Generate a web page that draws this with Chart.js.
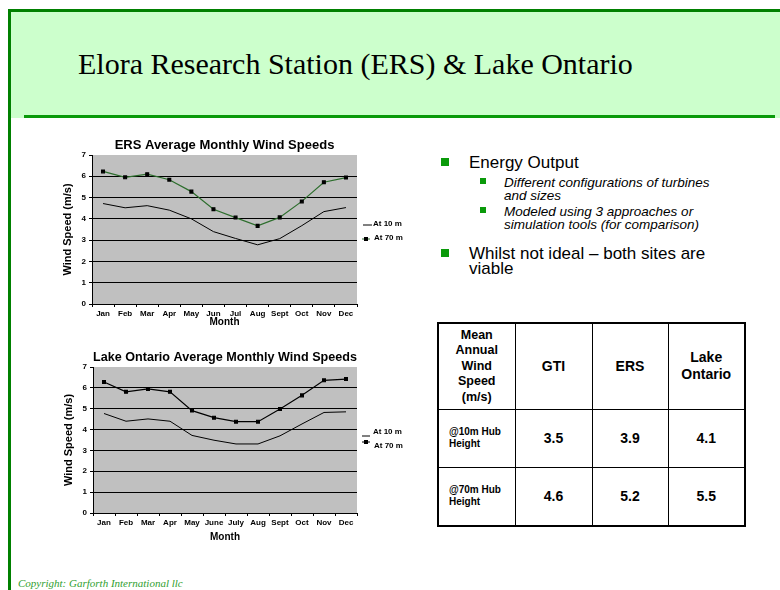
<!DOCTYPE html>
<html>
<head>
<meta charset="utf-8">
<script src="https://cdn.jsdelivr.net/npm/chart.js@4.4.0/dist/chart.umd.min.js"></script>
<style>
  body { margin: 0; width: 780px; height: 590px; position: relative; background: #fff; overflow: hidden;
         font-family: 'Liberation Sans', Arial, sans-serif; }
  .abs { position: absolute; }
  .bul { position: absolute; width: 8px; height: 8px; background: #0a9a0a; }
  .sub { position: absolute; width: 6px; height: 6px; background: #0a9a0a; }
  table { position: absolute; left: 437px; top: 322px; border-collapse: collapse; table-layout: fixed;
          border: 2px solid #000; }
  td { border: 1.5px solid #000; text-align: center; font-weight: bold; padding: 0; }
</style>
</head>
<body>
<div class="abs" style="left:8px;top:9px;width:772px;height:3px;background:#008000"></div>
<div class="abs" style="left:11px;top:12px;width:769px;height:106px;background:#ccffcc"></div>
<div class="abs" style="left:8px;top:9px;width:3px;height:581px;background:#008000"></div>
<div class="abs" style="left:24px;top:115px;width:751px;height:3px;background:#0a9a0a"></div>
<div class="abs" style="left:78px;top:49px;font:30px/30px 'Liberation Serif','Times New Roman',serif;color:#000;white-space:nowrap">Elora Research Station (ERS) &amp; Lake Ontario</div>

<canvas id="ers" class="abs" style="left:50px;top:135px" width="370" height="197"></canvas>
<canvas id="lake" class="abs" style="left:51px;top:347px" width="369" height="200"></canvas>

<div class="bul" style="left:441px;top:158px"></div>
<div class="abs" style="left:469px;top:154px;font-size:17px;line-height:17px;white-space:nowrap">Energy Output</div>
<div class="sub" style="left:480px;top:178px"></div>
<div class="abs" style="left:504px;top:176px;font-size:13.5px;line-height:13px;font-style:italic;width:240px">Different configurations of turbines<br>and sizes</div>
<div class="sub" style="left:480px;top:207px"></div>
<div class="abs" style="left:504px;top:204.5px;font-size:13.5px;line-height:13px;font-style:italic;width:240px">Modeled using 3 approaches or<br>simulation tools (for comparison)</div>
<div class="bul" style="left:441px;top:249px"></div>
<div class="abs" style="left:469px;top:246px;font-size:17px;line-height:15px;width:260px">Whilst not ideal &ndash; both sites are viable</div>

<table>
  <colgroup><col style="width:77px"><col style="width:77px"><col style="width:76px"><col style="width:77px"></colgroup>
  <tr style="height:86px">
    <td style="font-size:12.5px;line-height:15.5px">Mean<br>Annual<br>Wind<br>Speed<br>(m/s)</td>
    <td id="h1" style="font-size:14px"></td>
    <td id="h2" style="font-size:14px"></td>
    <td id="h3" style="font-size:14px;line-height:17px"></td>
  </tr>
  <tr style="height:58px">
    <td id="r1" style="font-size:10px;line-height:12.5px;text-align:left;padding-left:10px"></td>
    <td id="v10_0" style="font-size:14px"></td><td id="v10_1" style="font-size:14px"></td><td id="v10_2" style="font-size:14px"></td>
  </tr>
  <tr style="height:59px">
    <td id="r2" style="font-size:10px;line-height:12.5px;text-align:left;padding-left:10px"></td>
    <td id="v70_0" style="font-size:14px"></td><td id="v70_1" style="font-size:14px"></td><td id="v70_2" style="font-size:14px"></td>
  </tr>
</table>

<div class="abs" style="left:18px;top:577px;font:italic 11px 'Liberation Serif','Times New Roman',serif;color:#2fa02f;white-space:nowrap">Copyright: Garforth International llc</div>

<script>
// chart data
const ersMonths = ['Jan', 'Feb', 'Mar', 'Apr', 'May', 'Jun', 'Jul', 'Aug', 'Sept', 'Oct', 'Nov', 'Dec'];
const lakeMonths = ['Jan', 'Feb', 'Mar', 'Apr', 'May', 'June', 'July', 'Aug', 'Sept', 'Oct', 'Nov', 'Dec'];
const ers10 = [4.72, 4.52, 4.62, 4.41, 4.0, 3.4, 3.08, 2.78, 3.07, 3.68, 4.34, 4.53];
const ers70 = [6.23, 5.95, 6.1, 5.84, 5.28, 4.45, 4.06, 3.67, 4.07, 4.82, 5.72, 5.94];
const lake10 = [4.77, 4.4, 4.51, 4.4, 3.72, 3.49, 3.31, 3.31, 3.7, 4.27, 4.82, 4.85];
const lake70 = [6.28, 5.81, 5.95, 5.81, 4.91, 4.57, 4.38, 4.38, 4.99, 5.64, 6.36, 6.42];
const yTicks = [0, 1, 2, 3, 4, 5, 6, 7];

// table data
const sites = ['GTI', 'ERS', 'Lake<br>Ontario'];
const hubLabels = ['@10m Hub<br>Height', '@70m Hub<br>Height'];
const mean10 = [3.5, 3.9, 4.1];
const mean70 = [4.6, 5.2, 5.5];

sites.forEach((s, i) => document.getElementById('h' + (i + 1)).innerHTML = s);
document.getElementById('r1').innerHTML = hubLabels[0];
document.getElementById('r2').innerHTML = hubLabels[1];
mean10.forEach((v, i) => document.getElementById('v10_' + i).textContent = v.toFixed(1));
mean70.forEach((v, i) => document.getElementById('v70_' + i).textContent = v.toFixed(1));

const FONT = "'Liberation Sans', Arial, sans-serif";

// grey plot area
const plotBg = {
    id: 'plotBg',
    beforeDraw(chart) {
        const { ctx, chartArea: a } = chart;
        ctx.save();
        ctx.fillStyle = '#c0c0c0';
        ctx.fillRect(a.left, a.top, a.width, a.height);
        ctx.restore();
    }
};

// legend on the right, like the office chart
const sideLegend = {
    id: 'sideLegend',
    afterDraw(chart, args, opts) {
        const { ctx, chartArea: a } = chart;
        const mid = (a.top + a.bottom) / 2;
        ctx.save();
        ctx.font = 'bold 8px ' + FONT;
        ctx.textBaseline = 'middle';
        chart.data.datasets.forEach((ds, i) => {
            const r = opts.rows[i];
            const y = mid + r.dy;
            ctx.strokeStyle = ds.borderColor;
            ctx.lineWidth = 1;
            ctx.beginPath();
            ctx.moveTo(a.right + r.x0, y + r.ly);
            ctx.lineTo(a.right + r.x1, y + r.ly);
            ctx.stroke();
            if (ds.pointRadius > 0) {
                const cx = a.right + (r.x0 + r.x1) / 2;
                ctx.fillStyle = '#000';
                ctx.fillRect(cx - 2, y + r.ly - 2, 4, 4);
            }
            ctx.fillStyle = '#000';
            ctx.fillText(ds.label, a.right + r.tx, y);
        });
        ctx.restore();
    }
};

function makeChart(id, title, labels, s10, s70, color70, xHeight, legendRows) {
    return new Chart(document.getElementById(id), {
        type: 'line',
        data: {
            labels: labels,
            datasets: [
                { label: 'At 10 m', data: s10, borderColor: '#000', borderWidth: 1, pointRadius: 0, tension: 0 },
                { label: 'At 70 m', data: s70, borderColor: color70, borderWidth: 1.2, pointRadius: 2,
                  pointStyle: 'rect', pointBackgroundColor: '#000', pointBorderColor: '#000', tension: 0 }
            ]
        },
        options: {
            responsive: false,
            animation: false,
            devicePixelRatio: 1,
            layout: { padding: { right: 63, left: 0, top: 0, bottom: 0 } },
            plugins: {
                legend: { display: false },
                tooltip: { enabled: false },
                title: {
                    display: true, text: title, fullSize: false, color: '#000',
                    font: { family: FONT, size: 13, weight: 'bold' },
                    padding: { top: 2.4, bottom: 2 }
                },
                sideLegend: { rows: legendRows }
            },
            scales: {
                x: {
                    offset: true,
                    grid: { offset: true, drawOnChartArea: false, color: '#000', tickLength: 3 },
                    border: { color: '#000', width: 1 },
                    ticks: { color: '#000', font: { family: FONT, size: 8, weight: 'bold' }, maxRotation: 0, autoSkip: false, padding: 2 },
                    title: { display: true, text: 'Month', color: '#000', font: { family: FONT, size: 10, weight: 'bold' }, padding: { top: 0, bottom: 4 } },
                    afterFit: s => { s.height = xHeight; }
                },
                y: {
                    min: yTicks[0], max: yTicks[yTicks.length - 1],
                    afterBuildTicks: s => { s.ticks = yTicks.map(v => ({ value: v })); },
                    grid: { color: c => c.tick && c.tick.value === 7 ? 'rgba(0,0,0,0)' : '#000', tickColor: '#000', tickLength: 3 },
                    border: { color: '#000', width: 1 },
                    ticks: { color: '#000', font: { family: FONT, size: 8, weight: 'bold' }, padding: 3 },
                    title: { display: true, text: 'Wind Speed (m/s)', color: '#000', font: { family: FONT, size: 11, weight: 'bold' }, padding: { top: 11.4, bottom: 0 } },
                    afterFit: s => { s.width = 42; }
                }
            }
        },
        plugins: [plotBg, sideLegend]
    });
}

makeChart('ers', 'ERS Average Monthly Wind Speeds', ersMonths, ers10, ers70, '#2d6e2d', 28, [
    { dy: -5.5, ly: 1, x0: 6, x1: 15, tx: 16 },
    { dy: 8.5, ly: 1, x0: 5, x1: 13, tx: 17 }
]);
makeChart('lake', 'Lake Ontario Average Monthly Wind Speeds', lakeMonths, lake10, lake70, '#000', 34, [
    { dy: -8, ly: 4, x0: 5, x1: 13, tx: 16 },
    { dy: 6, ly: -4, x0: 5, x1: 13, tx: 17 }
]);
</script>
</body>
</html>
